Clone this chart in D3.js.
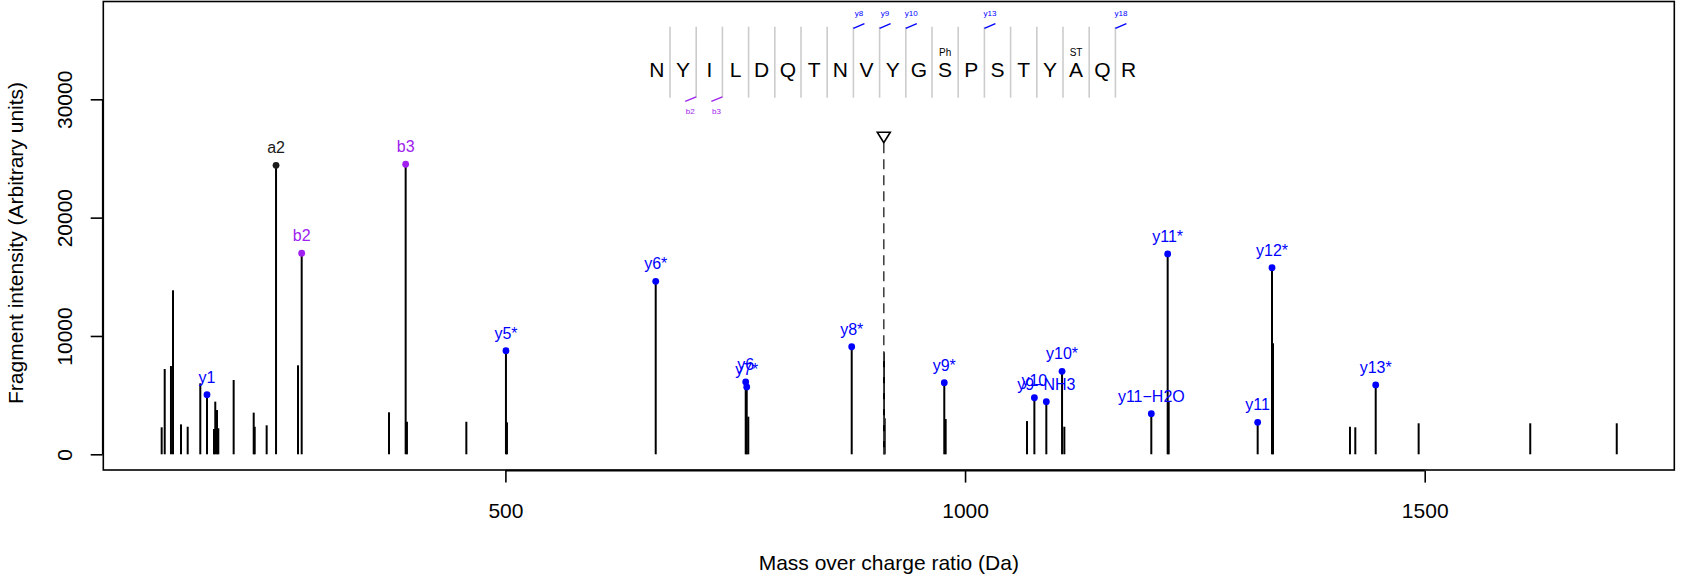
<!DOCTYPE html>
<html>
<head>
<meta charset="utf-8">
<script src="https://cdn.jsdelivr.net/npm/d3@7"></script>
<style>
  html, body { margin: 0; padding: 0; background: #fff; }
  svg { display: block; font-family: "Liberation Sans", Arial, Helvetica, sans-serif; }
</style>
</head>
<body>
<svg id="chart" width="1690" height="579"></svg>
<script>
// ---------------- DATA ----------------
// unlabelled fragment peaks (m/z, intensity)
const peakMz  = [126.1, 129.4, 136.2, 138.4, 147.1, 154.4, 168.1, 183.0, 184.4, 186.3, 187.7,
                 204.4, 226.2, 227.3, 240.3, 274.4, 373.4, 392.9, 457.5, 501.7, 764.2, 911.8,
                 912.6, 978.9, 1067.4, 1108.0, 1221.5, 1335.0, 1418.7, 1424.5, 1493.4, 1614.8, 1708.9];
const peakInt = [2280, 7210, 7460, 13860, 2530, 2330, 6000, 2140, 4450, 3740, 2200,
                 6280, 3520, 2330, 2450, 7520, 3550, 2750, 2750, 2700, 3180, 8620,
                 3040, 2980, 2810, 2330, 4450, 9380, 2330, 2280, 2620, 2620, 2620];

// annotated fragment peaks
const labMz    = [175.4, 250.5, 278.4, 391.5, 500.6, 663.5, 761.4, 762.5, 876.7, 977.4,
                  1075.4, 1088.4, 1105.5, 1202.6, 1220.4, 1318.3, 1333.9, 1446.7];
const labInt   = [5040, 24420, 16990, 24510, 8755, 14620, 6110, 5690, 9090, 6050,
                  4780, 4445, 7010, 3430, 16930, 2700, 15770, 5860];
const labText  = ["y1", "a2", "b2", "b3", "y5*", "y6*", "y6", "y7*", "y8*", "y9*",
                  "y10", "y9\u2212NH3", "y10*", "y11\u2212H2O", "y11*", "y11", "y12*", "y13*"];
const labType  = ["y", "a", "b", "b", "y", "y", "y", "y", "y", "y",
                  "y", "y", "y", "y", "y", "y", "y", "y"];

// precursor
const precursorMz = 911.6;
const precursorMarkInt = 26800;

// peptide sequence & annotations
const sequence = ["N","Y","I","L","D","Q","T","N","V","Y","G","S","P","S","T","Y","A","Q","R"];
const modPos   = [11, 16];
const modText  = ["Ph", "ST"];
const yCutPos  = [7, 8, 9, 12, 17];        // separator index (after residue)
const yCutText = ["y8", "y9", "y10", "y13", "y18"];
const bCutPos  = [1, 2];
const bCutText = ["b2", "b3"];

// axes
const xTicks = [500, 1000, 1500];
const yTicks = [0, 10000, 20000, 30000];
const xTitle = "Mass over charge ratio (Da)";
const yTitle = "Fragment intensity (Arbitrary units)";

// ---------------- LAYOUT ----------------
const colors = { y: "#0000FF", b: "#A020F0", a: "#1a1a1a" };
const box = { left: 103.3, right: 1674.3, top: 1.5, bottom: 470 };
const axisFont = 21;

const svg = d3.select("#chart");
svg.append("rect").attr("width", 1690).attr("height", 579).attr("fill", "#fff");

const x = d3.scaleLinear().domain([62.6, 1771.5]).range([box.left, box.right]);
const y = d3.scaleLinear().domain([-1327, 38266]).range([box.bottom, box.top]);

// peaks (unlabelled)
svg.append("g").selectAll("line").data(peakMz.map((m, i) => [m, peakInt[i]])).join("line")
  .attr("x1", d => x(d[0])).attr("x2", d => x(d[0]))
  .attr("y1", y(0)).attr("y2", d => y(d[1]))
  .attr("stroke", "#000").attr("stroke-width", 2);

// precursor dashed line + triangle
const px = x(precursorMz), py = y(precursorMarkInt);
svg.append("line")
  .attr("x1", px).attr("x2", px).attr("y1", py + 6).attr("y2", y(0))
  .attr("stroke", "#444").attr("stroke-width", 1.6).attr("stroke-dasharray", "10,6");
svg.append("path")
  .attr("d", `M${px - 6.5},${py - 5} L${px + 6.5},${py - 5} L${px},${py + 5.5} Z`)
  .attr("fill", "none").attr("stroke", "#000").attr("stroke-width", 1.6);

// labelled peaks
const lab = labMz.map((m, i) => ({ m, v: labInt[i], t: labText[i], c: colors[labType[i]] }));
const lg = svg.append("g");
lg.selectAll("line").data(lab).join("line")
  .attr("x1", d => x(d.m)).attr("x2", d => x(d.m))
  .attr("y1", y(0)).attr("y2", d => y(d.v))
  .attr("stroke", "#000").attr("stroke-width", 2);
lg.selectAll("circle").data(lab).join("circle")
  .attr("cx", d => x(d.m)).attr("cy", d => y(d.v)).attr("r", 3.4)
  .attr("fill", d => d.c);
lg.selectAll("text").data(lab).join("text")
  .attr("x", d => x(d.m)).attr("y", d => y(d.v) - 12)
  .attr("text-anchor", "middle").attr("font-size", 16)
  .attr("fill", d => d.c).text(d => d.t);

// plot box
svg.append("rect")
  .attr("x", box.left).attr("y", box.top)
  .attr("width", box.right - box.left).attr("height", box.bottom - box.top)
  .attr("fill", "none").attr("stroke", "#000").attr("stroke-width", 1.6);

// x axis
const xAxis = d3.axisBottom(x).tickValues(xTicks).tickSize(12).tickPadding(0).tickFormat(d3.format("d"));
const gx = svg.append("g").attr("transform", `translate(0,${box.bottom + 0.6})`).call(xAxis);
gx.select(".domain").remove();
gx.append("line").attr("x1", x(xTicks[0])).attr("x2", x(xTicks[xTicks.length - 1]))
  .attr("stroke", "#000").attr("stroke-width", 1.6);
gx.selectAll(".tick line").attr("stroke", "#000").attr("stroke-width", 1.6);
gx.selectAll(".tick text").attr("font-size", axisFont).attr("fill", "#000")
  .attr("font-family", "Liberation Sans, Arial, sans-serif")
  .attr("dy", null).attr("y", 47).attr("dominant-baseline", "auto");

// y axis
const yAxis = d3.axisLeft(y).tickValues(yTicks).tickSize(12).tickFormat(d3.format("d"));
const gy = svg.append("g").attr("transform", `translate(${box.left - 0.6},0)`).call(yAxis);
gy.select(".domain").remove();
gy.append("line").attr("y1", y(yTicks[0])).attr("y2", y(yTicks[yTicks.length - 1]))
  .attr("stroke", "#000").attr("stroke-width", 1.6);
gy.selectAll(".tick line").attr("stroke", "#000").attr("stroke-width", 1.6);
gy.selectAll(".tick text").attr("font-size", axisFont).attr("fill", "#000")
  .attr("font-family", "Liberation Sans, Arial, sans-serif")
  .attr("x", null).attr("dy", null)
  .attr("text-anchor", "middle")
  .attr("transform", `translate(${71.7 - (box.left - 0.6)},0) rotate(-90)`);

// axis titles
svg.append("text").attr("x", (box.left + box.right) / 2).attr("y", 570)
  .attr("text-anchor", "middle").attr("font-size", axisFont).attr("fill", "#000").text(xTitle);
svg.append("text").attr("transform", `translate(22.7,243) rotate(-90)`)
  .attr("text-anchor", "middle").attr("font-size", axisFont).attr("fill", "#000").text(yTitle);

// ---------------- SEQUENCE ANNOTATION ----------------
const seqX = d3.scaleLinear().domain([0, sequence.length - 1]).range([656.9, 1128.5]);
const sepX = k => (seqX(k) + seqX(k + 1)) / 2;
const sg = svg.append("g");
sg.selectAll("line.sep").data(d3.range(sequence.length - 1)).join("line").attr("class", "sep")
  .attr("x1", k => sepX(k)).attr("x2", k => sepX(k)).attr("y1", 26.7).attr("y2", 97.7)
  .attr("stroke", "#cccccc").attr("stroke-width", 1.6);
sg.selectAll("text.aa").data(sequence).join("text").attr("class", "aa")
  .attr("x", (d, i) => seqX(i)).attr("y", 76.5)
  .attr("text-anchor", "middle").attr("font-size", 21).attr("fill", "#000").text(d => d);
sg.selectAll("text.mod").data(modPos).join("text").attr("class", "mod")
  .attr("x", p => seqX(p)).attr("y", 55.5)
  .attr("text-anchor", "middle").attr("font-size", 10).attr("fill", "#000")
  .text((p, i) => modText[i]);
// y cuts
sg.selectAll("line.ycut").data(yCutPos).join("line").attr("class", "ycut")
  .attr("x1", k => sepX(k)).attr("x2", k => sepX(k) + 11)
  .attr("y1", 28.4).attr("y2", 23.6)
  .attr("stroke", colors.y).attr("stroke-width", 1.3);
sg.selectAll("text.ycut").data(yCutPos).join("text").attr("class", "ycut")
  .attr("x", k => sepX(k) + 5.5).attr("y", 16)
  .attr("text-anchor", "middle").attr("font-size", 8).attr("fill", colors.y)
  .text((k, i) => yCutText[i]);
// b cuts
sg.selectAll("line.bcut").data(bCutPos).join("line").attr("class", "bcut")
  .attr("x1", k => sepX(k)).attr("x2", k => sepX(k) - 11)
  .attr("y1", 96.8).attr("y2", 101.4)
  .attr("stroke", colors.b).attr("stroke-width", 1.3);
sg.selectAll("text.bcut").data(bCutPos).join("text").attr("class", "bcut")
  .attr("x", k => sepX(k) - 6).attr("y", 113.5)
  .attr("text-anchor", "middle").attr("font-size", 8).attr("fill", colors.b)
  .text((k, i) => bCutText[i]);
</script>
</body>
</html>
